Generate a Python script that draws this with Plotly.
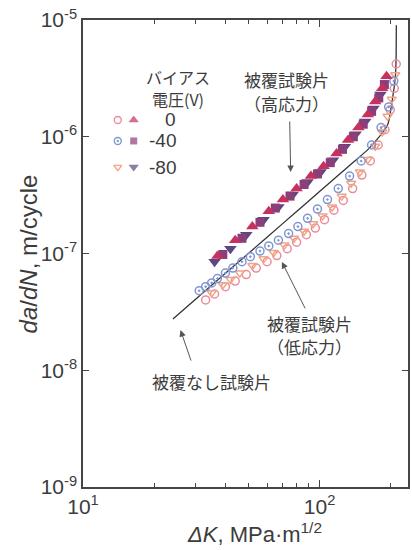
import plotly.graph_objects as go

# ---------------- data ----------------
# coated specimens, high stress (filled symbols)
F0_X = [37, 44, 52, 61, 70, 80, 92, 104, 118, 132, 146, 160, 172, 184, 192]
F0_Y = [9.5e-8, 1.3e-7, 1.7e-7, 2.3e-7, 2.9e-7, 3.6e-7, 4.6e-7, 5.6e-7, 7.2e-7, 9.4e-7, 1.2e-6, 1.55e-6, 2.0e-6, 2.6e-6, 3.3e-6]
F40_X = [39, 47, 56, 65, 75, 86, 98, 111, 125, 139, 153, 166, 178, 188]
F40_Y = [9.8e-8, 1.35e-7, 1.85e-7, 2.45e-7, 3.1e-7, 3.9e-7, 4.8e-7, 6.0e-7, 7.8e-7, 1.0e-6, 1.28e-6, 1.65e-6, 2.15e-6, 2.8e-6]
F80_X = [36, 42, 49, 58, 67, 77, 89, 101, 114, 128, 142, 156, 169, 181]
F80_Y = [8.5e-8, 1.1e-7, 1.45e-7, 1.95e-7, 2.5e-7, 3.2e-7, 4.1e-7, 5.0e-7, 6.3e-7, 8.2e-7, 1.05e-6, 1.35e-6, 1.75e-6, 2.3e-6]

# coated specimens, low stress (open symbols)
O0_X = [33, 36, 40, 44, 49, 54, 60, 66, 73, 80, 88, 96, 105, 115, 126, 138, 151, 164, 177, 189, 199, 207, 211]
O0_Y = [4.0e-8, 4.5e-8, 5.2e-8, 5.8e-8, 6.6e-8, 7.5e-8, 8.5e-8, 9.6e-8, 1.1e-7, 1.25e-7, 1.45e-7, 1.65e-7, 1.95e-7, 2.35e-7, 2.85e-7, 3.6e-7, 4.7e-7, 6.2e-7, 8.5e-7, 1.15e-6, 1.7e-6, 2.6e-6, 4.2e-6]
O40_X = [31, 33, 35, 37, 40, 43, 47, 51, 56, 61, 67, 74, 81, 89, 98, 108, 120, 134, 150, 166, 182, 196, 206]
O40_Y = [4.8e-8, 5.2e-8, 5.6e-8, 6.1e-8, 6.8e-8, 7.5e-8, 8.5e-8, 9.4e-8, 1.05e-7, 1.16e-7, 1.3e-7, 1.48e-7, 1.7e-7, 2.0e-7, 2.4e-7, 2.9e-7, 3.6e-7, 4.6e-7, 6.2e-7, 8.5e-7, 1.2e-6, 1.8e-6, 3.0e-6]
O80_X = [35, 39, 42, 46, 52, 58, 64, 71, 78, 86, 94, 103, 113, 124, 136, 148, 160, 172, 184, 194, 202, 209]
O80_Y = [4.6e-8, 5.4e-8, 6.0e-8, 6.8e-8, 7.9e-8, 9.0e-8, 1.02e-7, 1.18e-7, 1.35e-7, 1.55e-7, 1.8e-7, 2.1e-7, 2.5e-7, 3.1e-7, 4.0e-7, 5.0e-7, 6.4e-7, 8.3e-7, 1.1e-6, 1.5e-6, 2.1e-6, 3.4e-6]

# uncoated specimen (solid line)
LINE_X = [24, 40, 60, 80, 100, 120, 140, 160, 175, 187, 195, 200, 204, 207, 209.5, 210.8, 211.2]
LINE_Y = [2.75e-8, 6.76e-8, 1.38e-7, 2.29e-7, 3.39e-7, 4.67e-7, 6.13e-7, 7.76e-7, 9.5e-7, 1.12e-6, 1.3e-6, 1.7e-6, 2.2e-6, 2.7e-6, 3.4e-6, 5.0e-6, 9.0e-6]

X_TICKS = [10, 100]
X_TICKTEXT = ["10<sup>1</sup>", "10<sup>2</sup>"]
X_MINOR = [20, 30, 40, 50, 60, 70, 80, 90, 200]
Y_TICKS = [1e-9, 1e-8, 1e-7, 1e-6, 1e-5]
Y_TICKTEXT = ["10<sup>-9</sup>", "10<sup>-8</sup>", "10<sup>-7</sup>", "10<sup>-6</sup>", "10<sup>-5</sup>"]

LEGEND_LABELS = ["0", "-40", "-80"]

# ---------------- styles ----------------
TXT = "#3c3c3c"
AX = "#454545"
SANS = "Liberation Sans, Arial, sans-serif"
CJK = "Noto Sans CJK JP, sans-serif"

C_F0, C_F40, C_F80 = "#c8305e", "#8b3f7a", "#5e4682"
C_O0, C_O40, C_O80 = "#ea8c9c", "#8196d2", "#f0a585"

fig = go.Figure()

fig.add_trace(go.Scatter(x=LINE_X, y=LINE_Y, mode="lines", line=dict(color="#333333", width=1.3, shape="spline", smoothing=0.6)))

open_series = [(O0_X, O0_Y, "circle-open", C_O0), (O80_X, O80_Y, "triangle-down-open", C_O80), (O40_X, O40_Y, "circle-open-dot", C_O40)]
for xs, ys, sym, col in open_series:
    fig.add_trace(go.Scatter(x=xs, y=ys, mode="markers",
                             marker=dict(symbol=sym, size=8, color=col, line=dict(color=col, width=1.5))))

filled_series = [(F80_X, F80_Y, "triangle-down", C_F80), (F40_X, F40_Y, "square", C_F40), (F0_X, F0_Y, "triangle-up", C_F0)]
for xs, ys, sym, col in filled_series:
    fig.add_trace(go.Scatter(x=xs, y=ys, mode="markers",
                             marker=dict(symbol=sym, size=11 if sym != "square" else 9, color=col, line=dict(width=0))))

# legend keys on an overlay axis (paper-like 0..1)
KEY_ROWS = [0.786, 0.741, 0.685]
KEY_OPEN_X = 0.107
KEY_FILLED_X = 0.156
key_open = [("circle-open", C_O0), ("circle-open-dot", C_O40), ("triangle-down-open", C_O80)]
key_filled = [("triangle-up", C_F0), ("square", C_F40), ("triangle-down", C_F80)]
fig.add_trace(go.Scatter(x=[KEY_OPEN_X] * 3, y=KEY_ROWS, mode="markers", xaxis="x2", yaxis="y2",
                         marker=dict(symbol=[k[0] for k in key_open], color=[k[1] for k in key_open], size=7,
                                     line=dict(color=[k[1] for k in key_open], width=1.4))))
fig.add_trace(go.Scatter(x=[KEY_FILLED_X] * 3, y=KEY_ROWS, mode="markers", xaxis="x2", yaxis="y2",
                         marker=dict(symbol=[k[0] for k in key_filled], color=[k[1] for k in key_filled], size=[9, 7, 9],
                                     line=dict(width=0))))

axis_common = dict(showline=True, linecolor=AX, linewidth=1.5, mirror="allticks", ticks="inside",
                   tickcolor=AX, tickwidth=1.3, showgrid=False, zeroline=False,
                   tickfont=dict(family=SANS, size=21, color=TXT))

fig.update_layout(
    width=412, height=550,
    margin=dict(l=83, r=2, t=20, b=63),
    paper_bgcolor="white", plot_bgcolor="white",
    showlegend=False,
    xaxis=dict(type="log", range=[1, 2.374], tickmode="array", tickvals=X_TICKS, ticktext=X_TICKTEXT,
               ticklen=7, minor=dict(tickmode="array", tickvals=X_MINOR, ticks="inside", ticklen=4,
                                     tickcolor=AX, tickwidth=1.1, showgrid=False),
               **axis_common),
    yaxis=dict(type="log", range=[-9, -5], tickmode="array", tickvals=Y_TICKS, ticktext=Y_TICKTEXT,
               ticklen=6, **axis_common),
    xaxis2=dict(overlaying="x", range=[0, 1], visible=False, anchor="y2"),
    yaxis2=dict(overlaying="y", range=[0, 1], visible=False, anchor="x2"),
)


def px_y(py):
    """pixel row -> paper fraction (plot area spans rows 20..487)"""
    return (487 - py) / 467


ann = []
# axis titles
ann.append(dict(xref="paper", yref="paper", x=-0.168, y=px_y(254), text="<i>da</i>/<i>dN</i>, m/cycle",
                textangle=-90, showarrow=False, xanchor="center", yanchor="middle",
                font=dict(family=SANS, size=24, color=TXT)))
ann.append(dict(xref="paper", yref="paper", x=0.529, y=px_y(533), text="<i>ΔK</i>, MPa·m<sup>1/2</sup>",
                showarrow=False, xanchor="center", yanchor="middle",
                font=dict(family=SANS, size=22, color=TXT)))
# legend title (two lines) and labels
for txt, py in [("バイアス", 77), ("電圧(V)", 99)]:
    ann.append(dict(xref="paper", yref="paper", x=0.291, y=px_y(py), text=txt,
                    showarrow=False, xanchor="center", yanchor="middle",
                    font=dict(family=CJK, size=16, color=TXT)))
for lab, yy in zip(LEGEND_LABELS, KEY_ROWS):
    ann.append(dict(xref="paper", yref="paper", x=0.291, y=yy, text=lab, showarrow=False,
                    xanchor="right", yanchor="middle", font=dict(family=SANS, size=19, color=TXT)))
# callouts (one annotation per line)
callouts = [(0.627, 80, "被覆試験片"), (0.627, 103, "（高応力）"),
            (0.697, 323, "被覆試験片"), (0.697, 346, "（低応力）"),
            (0.394, 381, "被覆なし試験片")]
for cx, py, txt in callouts:
    ann.append(dict(xref="paper", yref="paper", x=cx, y=px_y(py), text=txt,
                    showarrow=False, xanchor="center", yanchor="middle",
                    font=dict(family=CJK, size=17, color=TXT)))
# arrows
for tipx, tipy, axp, ayp in [(0.639, 0.6745, -1, -52), (0.612, 0.482, 24, 48), (0.300, 0.336, 11, 32)]:
    ann.append(dict(xref="paper", yref="paper", x=tipx, y=tipy, ax=axp, ay=ayp, text="",
                    showarrow=True, arrowhead=2, arrowsize=1.3, arrowwidth=1, arrowcolor="#555555"))

fig.update_layout(annotations=ann)
fig.write_html("out.html", config={"displayModeBar": False},
               post_script="document.body.style.margin='0';document.body.style.padding='0';")
